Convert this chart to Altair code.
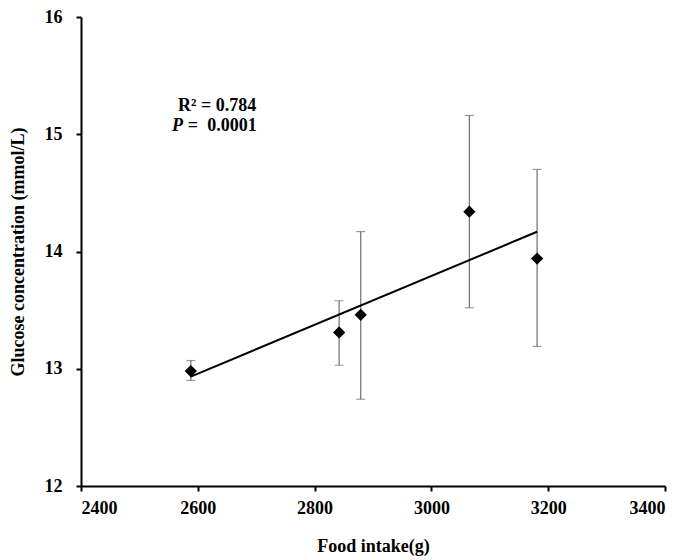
import altair as alt
import pandas as pd

food = [2588, 2842, 2879, 3065, 3181]
glucose = [12.98, 13.31, 13.46, 14.34, 13.94]
err_low = [12.90, 13.03, 12.74, 13.52, 13.19]
err_high = [13.07, 13.58, 14.17, 15.16, 14.70]

x_ticks = [2400, 2600, 2800, 3000, 3200, 3400]
y_ticks = [12, 13, 14, 15, 16]

df = pd.DataFrame({"food": food, "glucose": glucose, "lo": err_low, "hi": err_high})

FONT = "Liberation Serif"
ERR = "#6e6e6e"

xs = alt.Scale(domain=[2400, 3400], nice=False, zero=False)
ys = alt.Scale(domain=[12, 16], nice=False, zero=False)

xax = alt.Axis(values=x_ticks, title="Food intake(g)", labelPadding=8, titlePadding=20, format="d")
yax = alt.Axis(values=y_ticks, title="Glucose concentration (mmol/L)", labelPadding=14, titlePadding=17, format="d")

base = alt.Chart(df)

bars = base.mark_rule(color=ERR, strokeWidth=1.2).encode(
    x=alt.X("food:Q", scale=xs, axis=xax),
    y=alt.Y("lo:Q", scale=ys, axis=yax),
    y2="hi:Q",
)
cap_lo = base.mark_tick(color=ERR, orient="horizontal", size=9, thickness=1.2).encode(
    x=alt.X("food:Q", scale=xs), y=alt.Y("lo:Q", scale=ys)
)
cap_hi = base.mark_tick(color=ERR, orient="horizontal", size=9, thickness=1.2).encode(
    x=alt.X("food:Q", scale=xs), y=alt.Y("hi:Q", scale=ys)
)
reg = base.transform_regression("food", "glucose").mark_line(color="black", strokeWidth=2).encode(
    x=alt.X("food:Q", scale=xs), y=alt.Y("glucose:Q", scale=ys)
)
pts = base.mark_point(shape="diamond", filled=True, color="black", size=150, opacity=1).encode(
    x=alt.X("food:Q", scale=xs), y=alt.Y("glucose:Q", scale=ys)
)

ann = pd.DataFrame({
    "x": [2633, 2556, 2583],
    "y": [15.24, 15.07, 15.07],
    "t": ["R\u00b2 = 0.784", "P", "=\u00a0\u00a00.0001"],
})
t1 = alt.Chart(ann.iloc[[0]]).mark_text(font=FONT, fontSize=18, fontWeight="bold", align="center", baseline="middle", color="black").encode(
    x=alt.X("x:Q", scale=xs), y=alt.Y("y:Q", scale=ys), text="t:N"
)
t2 = alt.Chart(ann.iloc[[1]]).mark_text(font=FONT, fontSize=18, fontWeight="bold", fontStyle="italic", align="left", baseline="middle", color="black").encode(
    x=alt.X("x:Q", scale=xs), y=alt.Y("y:Q", scale=ys), text="t:N"
)
t3 = alt.Chart(ann.iloc[[2]]).mark_text(font=FONT, fontSize=18, fontWeight="bold", align="left", baseline="middle", color="black").encode(
    x=alt.X("x:Q", scale=xs), y=alt.Y("y:Q", scale=ys), text="t:N"
)

chart = alt.layer(bars, cap_lo, cap_hi, reg, pts, t1, t2, t3).properties(
    width=584, height=469,
    background="white",
    autosize=alt.AutoSizeParams(type="none"),
    padding={"left": 73, "top": 9, "right": 10, "bottom": 74},
).configure_view(stroke=None).configure_axis(
    grid=False,
    domainColor="black", domainWidth=2,
    tickColor="black", tickWidth=2, tickSize=5,
    labelFont=FONT, labelFontSize=18, labelFontWeight="bold", labelColor="black",
    titleFont=FONT, titleFontSize=18, titleFontWeight="bold", titleColor="black",
)

chart.save("out.html", embed_options={"renderer": "svg", "actions": False})
